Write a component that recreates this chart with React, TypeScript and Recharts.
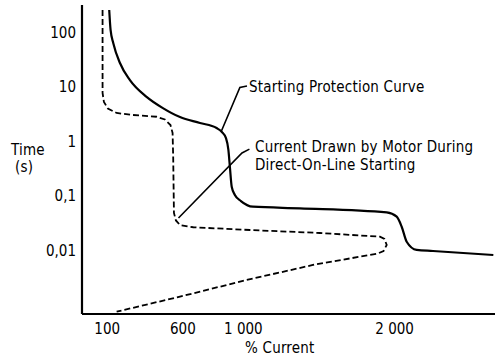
import React from 'react';
import { LineChart, Line, XAxis, YAxis } from 'recharts';

// % current (x) and time in seconds (y)
const protectionCurrent = [113, 122, 140, 184, 250, 360, 468, 581, 713, 823, 858, 885, 901, 911, 923, 944, 984, 1063, 1374, 1948, 2014, 2047, 2080, 2146, 2254, 2653];
const protectionTime = [260, 112, 64, 27.6, 13.4, 6.6, 4.1, 2.8, 2.18, 1.76, 1.49, 1.15, 0.695, 0.338, 0.147, 0.1035, 0.08, 0.063, 0.0589, 0.0497, 0.0413, 0.027, 0.0143, 0.0101, 0.00967, 0.00816];

const motorCurrent = [69, 69, 78, 104, 162, 270, 427, 481, 518, 532, 536, 541, 554, 581, 669, 1044, 1507, 1903, 1933, 1948, 1927, 1890, 1460, 1022, 581, 162];
const motorTime = [260, 7.76, 5.3, 4.03, 3.33, 3.06, 2.84, 2.53, 2.0, 1.43, 0.523, 0.0483, 0.0352, 0.029, 0.0264, 0.0235, 0.0207, 0.0177, 0.0161, 0.01247, 0.00967, 0.00869, 0.00535, 0.00283, 0.0014, 0.00074];

// leader lines for the two annotations
const leader1Current = [855, 977, 1024];
const leader1Time = [1.55, 9.8, 10.4];
const leader2Current = [571, 991, 1040];
const leader2Time = [0.0391, 0.612, 0.72];

const xTicks = [100, 600, 1000, 2000];
const yTicks = [0.01, 0.1, 1, 10, 100];

const zip = (xs: number[], ys: number[]) => xs.map((x, i) => ({ x, y: ys[i] }));

const protection = zip(protectionCurrent, protectionTime);
const motor = zip(motorCurrent, motorTime);
const leader1 = zip(leader1Current, leader1Time);
const leader2 = zip(leader2Current, leader2Time);

const font = '"DejaVu Sans Condensed", "DejaVu Sans", sans-serif';

const fmtX = (v: number) => (v >= 1000 ? `${Math.floor(v / 1000)} ${String(v % 1000).padStart(3, '0')}` : String(v));
const fmtY = (v: number) => String(v).replace('.', ',');

function Note({ x, y, children }: { x: number; y: number; children: React.ReactNode }) {
  return (
    <div
      style={{
        position: 'absolute',
        left: x,
        top: y,
        transform: 'translateY(-50%)',
        whiteSpace: 'nowrap',
        lineHeight: 1,
        fontSize: 15,
        letterSpacing: 0.2,
        fontFamily: font,
        color: '#000',
      }}
    >
      {children}
    </div>
  );
}

export default function App() {
  return (
    <div style={{ position: 'absolute', left: 0, top: 0, width: 495, height: 358, background: '#fff' }}>
      <LineChart width={495} height={358} margin={{ top: 5, right: 0, left: 0, bottom: 0 }}>
        <XAxis
          type="number"
          dataKey="x"
          domain={[-67, 2664]}
          ticks={xTicks}
          tickFormatter={fmtX}
          allowDataOverflow
          height={44}
          tickLine={false}
          tickSize={6}
          tickMargin={3}
          axisLine={{ stroke: '#000', strokeWidth: 2.2 }}
          tick={{ fill: '#000', fontSize: 15, fontFamily: font }}
        />
        <YAxis
          type="number"
          dataKey="y"
          scale="log"
          domain={[0.000671, 322]}
          ticks={yTicks}
          tickFormatter={fmtY}
          allowDataOverflow
          width={82}
          tickLine={false}
          tickSize={6}
          tickMargin={0}
          axisLine={{ stroke: '#000', strokeWidth: 2.2 }}
          tick={{ fill: '#000', fontSize: 15, fontFamily: font }}
        />
        <Line data={protection} dataKey="y" type="monotone" stroke="#000" strokeWidth={2.2} dot={false} isAnimationActive={false} />
        <Line data={motor} dataKey="y" type="linear" stroke="#000" strokeWidth={1.8} strokeDasharray="6 3" dot={false} isAnimationActive={false} />
        <Line data={leader1} dataKey="y" type="linear" stroke="#000" strokeWidth={1.6} dot={false} isAnimationActive={false} />
        <Line data={leader2} dataKey="y" type="linear" stroke="#000" strokeWidth={1.6} dot={false} isAnimationActive={false} />
      </LineChart>
      <Note x={249} y={87}>Starting Protection Curve</Note>
      <Note x={255} y={147}>Current Drawn by Motor During</Note>
      <Note x={255} y={165}>Direct-On-Line Starting</Note>
      <Note x={11} y={150}>Time</Note>
      <Note x={15} y={167}>(s)</Note>
      <Note x={245} y={348}>% Current</Note>
    </div>
  );
}
